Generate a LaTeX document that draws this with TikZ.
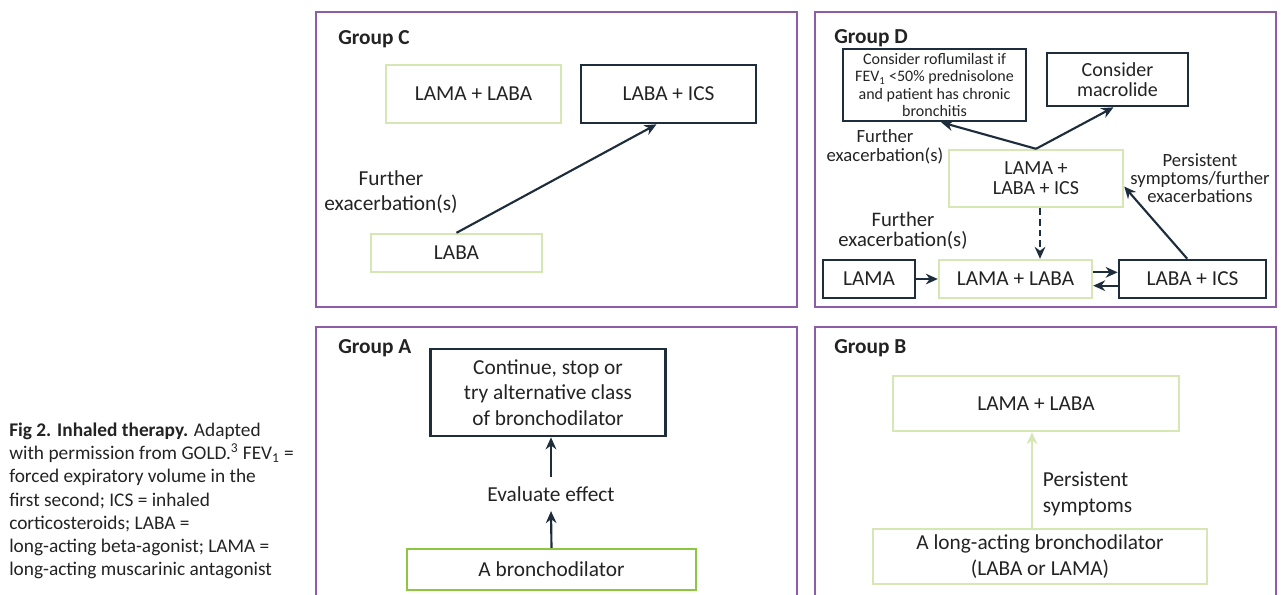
\documentclass[tikz,border=0pt]{standalone}
\usepackage{fontspec}
\setmainfont{Carlito}
\usetikzlibrary{arrows.meta, positioning, calc}

\newdimen\px \px=0.75pt

\definecolor{grpPurple}{RGB}{142,93,168}
\definecolor{navy}{RGB}{30,45,60}
\definecolor{paleGreen}{RGB}{214,231,181}
\definecolor{leafGreen}{RGB}{141,198,63}
\definecolor{inkGray}{RGB}{35,35,35}

\begin{document}
\begin{tikzpicture}[x=0.75pt, y=-0.75pt,
  panel/.style={draw=grpPurple, line width=2.2pt},
  grouplabel/.style={anchor=base west, inner sep=0pt, text=inkGray,
    font=\fontsize{16}{19}\selectfont\bfseries},
  boxsize/.style 2 args={minimum width=#1\px, minimum height=#2\px},
  drug/.style={rectangle, draw=paleGreen, line width=1.8pt, align=center,
    inner sep=2pt, text=inkGray, font=\fontsize{16}{19}\selectfont},
  choice/.style={drug, draw=navy, line width=2pt},
  firstline/.style={drug, draw=leafGreen},
  note/.style={align=center, inner sep=2pt, text=inkGray,
    font=\fontsize{16}{18.5}\selectfont},
  flow/.style={navy, line width=1.6pt, -{Stealth[length=9pt, width=8pt]}},
  paleflow/.style={flow, paleGreen}
]
  \clip (0,0) rectangle (1285,594);

  % Caption
  \node[anchor=north west, align=left, inner sep=0pt, text=inkGray,
    font=\fontsize{14.5}{17.3}\selectfont] (caption) at (9,423)
    {\textbf{Fig 2. Inhaled therapy.} Adapted\\
     with permission from GOLD.\textsuperscript{3} FEV\textsubscript{1} =\\
     forced expiratory volume in the\\
     first second; ICS = inhaled\\
     corticosteroids; LABA =\\
     long-acting beta-agonist; LAMA =\\
     long-acting muscarinic antagonist};

  % Panels
  \draw[panel] (316,12) rectangle (797,307);
  \draw[panel] (815,12) rectangle (1276,307);
  \draw[panel] (316,327) rectangle (797,620);
  \draw[panel] (815,327) rectangle (1276,620);

  % Group C
  \node[grouplabel] (cGroup) at (338,44) {Group C};
  \node[drug, boxsize={175}{58}] (cLamaLaba) at (473.5,94) {LAMA + LABA};
  \node[choice, boxsize={175}{58}] (cLabaIcs) at (668.5,94) {LABA + ICS};
  \node[drug, boxsize={171}{38}] (cLaba) at (456.5,253) {LABA};
  \node[note] (cFurther) at (391,192) {Further\\exacerbation(s)};
  \draw[flow] (cLaba.north) -- ([xshift=-9pt]cLabaIcs.south);

  % Group D
  \node[grouplabel] (dGroup) at (834,43) {Group D};
  \node[choice, boxsize={183}{72}, inner sep=1pt,
    font=\fontsize{12}{13}\selectfont] (dRof) at (934.5,85)
    {Consider roflumilast if\\FEV\textsubscript{1} <50\% prednisolone\\
     and patient has chronic\\bronchitis};
  \node[choice, boxsize={141}{53}, font=\fontsize{15}{15}\selectfont]
    (dMac) at (1117.5,79.5) {Consider\\macrolide};
  \node[drug, boxsize={174}{57}, font=\fontsize{15}{15}\selectfont]
    (dTriple) at (1036,178.5) {LAMA +\\LABA + ICS};
  \node[note, font=\fontsize{14}{14.5}\selectfont] (dFurtherTop) at (885,147)
    {Further\\exacerbation(s)};
  \node[note, font=\fontsize{14}{13.5}\selectfont] (dPersist) at (1200,178)
    {Persistent\\symptoms/further\\exacerbations};
  \node[note, font=\fontsize{15.5}{15}\selectfont] (dFurtherLow) at (903,231)
    {Further\\exacerbation(s)};
  \node[choice, boxsize={92}{38}] (dLama) at (869,279) {LAMA};
  \node[drug, boxsize={153}{38}] (dLamaLaba) at (1015.5,279) {LAMA + LABA};
  \node[choice, boxsize={147}{38}] (dLabaIcs) at (1192.5,279) {LABA + ICS};

  \draw[flow] (dTriple.north) -- ([xshift=5pt]dRof.south);
  \draw[flow] (dTriple.north) -- ([xshift=-3pt]dMac.south);
  \draw[flow, dash pattern=on 5pt off 3pt] ([xshift=3pt]dTriple.south)
    -- ([xshift=3pt]dTriple.south |- dLamaLaba.north);
  \draw[flow] (dLama) -- (dLamaLaba);
  \draw[flow] ([yshift=5pt]dLamaLaba.east) -- ([yshift=5pt]dLabaIcs.west);
  \draw[flow] ([yshift=-5pt]dLabaIcs.west) -- ([yshift=-5pt]dLamaLaba.east);
  \draw[flow] ([xshift=-4pt]dLabaIcs.north) -- ([yshift=-6pt]dTriple.east);

  % Group A
  \node[grouplabel] (aGroup) at (338,353) {Group A};
  \node[choice, boxsize={235}{87}] (aContinue) at (548,392.5)
    {Continue, stop or\\try alternative class\\of bronchodilator};
  \node[note, inner sep=7pt] (aEval) at (551,494) {Evaluate effect};
  \node[firstline, boxsize={289}{41}] (aBron) at (551.5,569.5) {A bronchodilator};
  \draw[flow] (aBron.north) -- (aEval.south);
  \draw[flow] (aEval.north) -- (aEval.north |- aContinue.south);

  % Group B
  \node[grouplabel] (bGroup) at (834,353) {Group B};
  \node[drug, boxsize={286}{55}] (bLamaLaba) at (1036,403.5) {LAMA + LABA};
  \node[drug, boxsize={334}{55}] (bLong) at (1040,556.5)
    {A long-acting bronchodilator\\(LABA or LAMA)};
  \node[note, anchor=west, align=left, font=\fontsize{16}{19}\selectfont]
    (bPersist) at (1040,494) {Persistent\\symptoms};
  \draw[paleflow] ([xshift=-6pt]bLong.north) -- ([xshift=-3pt]bLamaLaba.south);
\end{tikzpicture}
\end{document}
